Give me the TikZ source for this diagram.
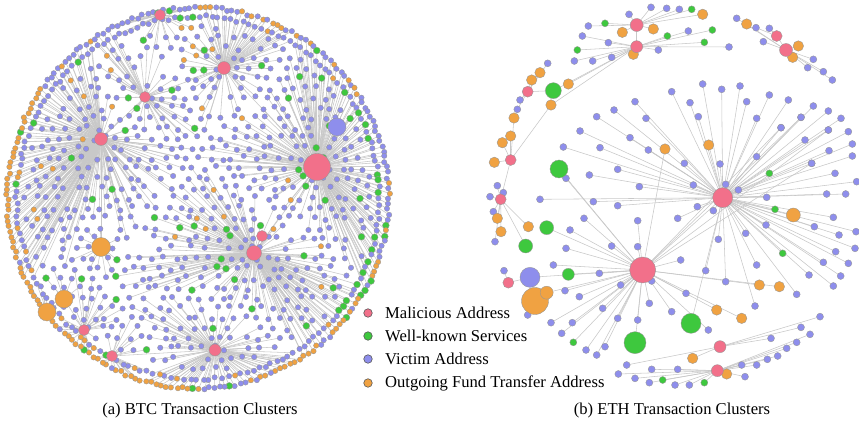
\documentclass[tikz,border=0pt]{standalone}
\usepackage{fontspec}
\setmainfont{Liberation Serif}
\definecolor{malC}{RGB}{242,112,138}
\definecolor{grnC}{RGB}{62,200,62}
\definecolor{vicC}{RGB}{142,142,236}
\definecolor{orgC}{RGB}{240,162,66}
\definecolor{edgeC}{RGB}{200,200,200}
\definecolor{bdC}{RGB}{150,150,150}
\tikzset{
  dot/.style={circle, draw=bdC, line width=0.35pt, inner sep=0pt, outer sep=0pt},
  vic/.style={dot, fill=vicC, minimum size=5.4pt},
  grn/.style={dot, fill=grnC, minimum size=6.8pt},
  org/.style={dot, fill=orgC, minimum size=5.4pt},
  mal/.style={dot, fill=malC},
  ev/.style={vic, minimum size=7pt},
  eg/.style={grn, minimum size=7pt},
  eo/.style={org, minimum size=10.5pt},
  link/.style={draw=edgeC, line width=0.55pt},
  legdot/.style={circle, draw=black!65, line width=0.6pt, inner sep=0pt, minimum size=8.5pt},
  legtxt/.style={anchor=west, inner sep=0pt, font=\fontsize{16.6}{19}\selectfont},
  captxt/.style={anchor=base, inner sep=0pt, font=\fontsize{16.6}{19}\selectfont}
}
\def\btchubs{160/15/0.9/ha,224/68/1.3/hb,145/97/1.3/hc,101/139/1.7/hd,317/167/2.3/he,337/127/0.55/hf,262/236/0.6/hg,254/253/2.0/hh,101/247/0.45/hi,64/299/0.4/hj,47/312/0.4/hk,84/330/0.8/hl,112/356/0.8/hm,215/350/1.5/hn}
\def\btchubnodes{160/15/mal/11/ha,224/68/mal/13/hb,145/97/mal/11/hc,101/139/mal/13/hd,317/167/mal/27/he,337/127/vic/18/hf,262/236/mal/11/hg,254/253/mal/15/hh,101/247/org/19/hi,64/299/org/18/hj,47/312/org/18/hk,84/330/mal/11/hl,112/356/mal/11/hm,215/350/mal/12/hn}
\newcommand{\nearhub}{%
  \gdef\bestd{9999}\gdef\besth{he}%
  \foreach \hx/\hy/\hw/\hn in \btchubs {%
    \pgfmathsetmacro\dd{veclen(\px-\hx,\py-\hy)/\hw}%
    \pgfmathtruncatemacro\cmp{\dd<\bestd}%
    \ifnum\cmp=1 \xdef\bestd{\dd}\xdef\besth{\hn}\fi
  }%
}
\newcommand{\pickstyle}{%
  \pgfmathsetmacro\u{rnd}%
  \pgfmathtruncatemacro\ty{(\u<\pg) ? 1 : ((\u<\pg+\po) ? 2 : 0)}%
  \ifcase\ty \def\sty{vic}\or\def\sty{grn}\or\def\sty{org}\fi
}
% one generated BTC point: coordinate + edge, its style remembered
\newcommand{\btcpoint}[1]{%
  \pickstyle
  \nearhub
  \coordinate (#1) at (\px,\py);
  \draw[link] (\besth) -- (#1);
  \expandafter\xdef\csname sty@#1\endcsname{\sty}%
  \expandafter\xdef\csname on@#1\endcsname{1}%
}
\def\ethspecial{728/593/mal/20/A,488/810/mal/26/B,470/75/mal/13/T1,470/140/mal/12/T2,890/108/mal/11/R1,918/150/mal/13/R2,143/275/mal/11/L1,92/480/mal/11/L2,62/598/mal/11/L3,85/848/mal/11/L4,720/1040/mal/12/P1,712/1112/mal/12/P2,237/507/grn/18/G1,220/272/grn/16/G2,200/683/grn/14/G3,137/738/grn/14/G4,265/823/grn/12/G5,633/970/grn/20/G6,465/1028/grn/22/G7,150/832/vic/20/V1,165/903/org/27/O1,200/878/org/13/O2,940/645/org/14/O3,213/315/org/10.5/E1}
\def\ethlist{513/22/ev/T1,560/25/ev/T1,598/28/ev/T1,635/28/eg/T1,668/43/eo/T1,447/43/ev/T1,427/97/eo/T1,325/78/ev/T1,375/70/eg/T1,520/87/eo/T1,
747/141/ev/T2,673/127/eg/T2,625/93/ev/T2,562/108/eg/T2,697/90/eg/T2,535/150/ev/T2,395/172/ev/T2,338/183/ev/T2,283/183/ev/T2,292/150/eg/T2,385/128/ev/T2,307/108/ev/T2,460/163/eo/T2,265/252/eo/T2,
1057/240/ev/R2,1030/215/ev/R2,1000/178/ev/R2,983/203/ev/R2,955/138/eo/R2,938/172/eo/R2,800/72/eo/R2,770/55/ev/R2,850/125/ev/R2,868/85/ev/R1,828/83/ev/R1,
203/190/ev/L1,180/218/eo/L1,155/240/eo/L1,120/300/ev/L1,112/328/ev/L1,
102/354/eo/L2,92/408/eo/L2,67/428/eo/L2,43/487/eo/L2,
52/557/ev/L3,70/578/ev/L3,30/590/ev/L3,40/635/ev/L3,52/655/eo/L3,63/695/eo/L3,45/725/ev/L3,145/680/eo/L3,
72/812/ev/L4,143/945/ev/O1,
575/275/ev/A,668/252/ev/A,725/268/ev/A,780/258/ev/A,868/285/ev/A,925/300/ev/A,630/308/ev/A,800/305/ev/A,1000/318/ev/A,1045/333/ev/A,465/305/ev/A,402/330/ev/A,350/350/ev/A,498/355/ev/A,655/350/ev/A,830/355/ev/A,963/352/ev/A,1083/355/ev/A,903/383/ev/A,1045/390/ev/A,1105/395/ev/A,300/393/ev/A,450/413/ev/A,975/420/ev/A,1047/452/ev/A,1117/432/ev/A,1117/468/ev/A,360/443/ev/A,505/450/ev/A,686/435/eo/A,250/441/ev/A,830/470/ev/A,613/490/ev/A,720/492/ev/A,995/490/ev/A,1065/520/ev/A,1130/545/ev/A,413/508/ev/A,328/525/ev/A,478/560/ev/A,640/555/ev/A,737/553/ev/A,775/570/ev/A,860/592/ev/A,1040/582/ev/A,1097/582/ev/A,180/598/ev/A,340/605/ev/A,413/617/ev/A,652/620/ev/A,700/632/ev/A,885/628/eg/A,1060/652/ev/A,593/655/ev/A,858/675/ev/A,1003/680/ev/A,1077/705/ev/A,1128/695/ev/A,715/718/ev/A,797/700/ev/A,868/520/eg/A,1125/745/ev/A,1067/755/ev/A,908/760/eg/A,830/795/ev/A,1030/787/ev/A,1105/790/ev/A,677/812/ev/A,737/845/ev/A,987/825/ev/A,1082/828/ev/A,1060/858/ev/A,950/883/ev/A,825/918/ev/A,
258/535/ev/B,312/655/ev/B,473/662/ev/B,270/690/ev/B,258/745/ev/B,395/738/ev/B,473/740/ev/B,602/780/ev/B,220/795/ev/B,358/820/ev/B,515/843/ev/B,422/855/ev/B,255/872/ev/B,298/890/ev/B,508/910/ev/B,575/935/ev/B,368/925/ev/B,473/960/ev/B,413/955/ev/B,213/968/ev/B,277/968/ev/B,245/1000/ev/B,280/1027/eg/B,318/1050/ev/B,350/1065/ev/B,375/1040/ev/B,685/990/ev/B,618/880/ev/B,555/447/eo/B,838/855/eo/B,898/860/eo/B,710/930/eo/B,785/955/eo/B,903/383/ev/B,963/352/ev/B,995/490/ev/B,1045/390/ev/B,
1020/950/ev/P1,963/982/ev/P1,873/1015/ev/P1,638/1075/eo/P1,440/1095/ev/P1,
990/1003/ev/P2,950/1027/ev/P2,920/1045/ev/P2,893/1068/ev/P2,862/1078/ev/P2,830/1095/ev/P2,785/1095/ev/P2,795/1130/ev/P2,740/1122/eo/P2,593/1108/ev/P2,515/1108/ev/P2,415/1122/ev/P2,465/1135/ev/P2,508/1148/ev/P2,548/1140/eg/P2,585/1155/ev/P2,628/1155/ev/P2,673/1148/eg/P2}
\begin{document}
\begin{tikzpicture}[x=1pt,y=-1pt]
\useasboundingbox (0,0) rectangle (859,430);
\fill[white] (0,0) rectangle (859,430);

% ---------------- BTC ----------------
\foreach \hx/\hy/\hs/\hsz/\hn in \btchubnodes
  \coordinate (\hn) at (\hx,\hy);
\foreach \a/\b in {he/hh,hc/hb,hd/hc,hh/hn,hd/hi,hg/hh,ha/hc,hf/he,hn/hm,hl/hj,hd/hh,hb/he,hk/hj}
  \draw[link] (\a) -- (\b);

\pgfmathsetseed{11}
% interior points on a jittered hexagonal grid
\foreach \j in {0,...,34} {
  \foreach \i in {0,...,31} {
    \pgfmathsetmacro\px{198+(\i-15.5)*11.5+mod(\j,2)*5.75+(rnd-0.5)*6}
    \pgfmathsetmacro\py{198+(\j-17)*10+(rnd-0.5)*5}
    \pgfmathtruncatemacro\keep{and(veclen(\px-198,\py-198)<174, rnd>0.12)}
    \ifnum\keep=1
      \pgfmathsetmacro\pg{(\px>285) ? 0.15 : (and(\py>225,\py<300) ? 0.11 : 0.025)}
      \pgfmathsetmacro\po{and(\px<250,\py<120) ? 0.12 : 0.025}
      \btcpoint{b\i x\j}
    \fi
  }
}
% outer rim ring
\foreach \k in {0,...,224} {
  \pgfmathsetmacro\ang{\k*1.6+rnd*0.6}
  \pgfmathsetmacro\rad{189+rnd*3}
  \pgfmathsetmacro\px{198+\rad*cos(\ang)}
  \pgfmathsetmacro\py{198+\rad*sin(\ang)}
  \pgfmathsetmacro\po{and(\ang>92,\ang<215) ? 0.88 : (and(\ang>18,\ang<72) ? 0.55 : (and(\ang>280,\ang<328) ? 0.45 : 0.07))}
  \pgfmathsetmacro\pg{and(\ang>8,\ang<40) ? 0.3 : 0.03}
  \btcpoint{r\k}
}
% inner rim ring
\foreach \k in {0,...,179} {
  \pgfmathsetmacro\ang{\k*2+rnd*0.8}
  \pgfmathsetmacro\rad{180+rnd*3}
  \pgfmathsetmacro\px{198+\rad*cos(\ang)}
  \pgfmathsetmacro\py{198+\rad*sin(\ang)}
  \pgfmathsetmacro\po{and(\ang>92,\ang<215) ? 0.2 : 0.05}
  \pgfmathsetmacro\pg{and(\ang>5,\ang<40) ? 0.5 : (and(\ang>320,\ang<360) ? 0.3 : 0.03)}
  \btcpoint{q\k}
}
% nodes on top of the edges
\foreach \j in {0,...,34} {
  \foreach \i in {0,...,31} {
    \expandafter\ifx\csname on@b\i x\j\endcsname\relax\else
      \edef\sty{\csname sty@b\i x\j\endcsname}%
      \node[\sty] (nb\i x\j) at (b\i x\j) {};
    \fi
  }
}
\foreach \k in {0,...,224} {\edef\sty{\csname sty@r\k\endcsname}\node[\sty] (nr\k) at (r\k) {};}
\foreach \k in {0,...,179} {\edef\sty{\csname sty@q\k\endcsname}\node[\sty] (nq\k) at (q\k) {};}
\foreach \hx/\hy/\hs/\hsz/\hn in \btchubnodes
  \node[\hs, minimum size=\hsz pt] (N\hn) at (\hn) {};

% ---------------- ETH ----------------
\foreach \x/\y/\s/\sz/\n in \ethspecial
  \coordinate (\n) at ({480+\x/3},{\y/3});
\foreach \a/\b in {T1/T2,R1/R2,A/B,L2/L3,T2/E1,L2/E1,G1/B,G3/B,G4/L3,G5/B,G6/A,G7/B,V1/B,V1/L4,O2/B,O1/V1,O3/A,G2/T2,L1/G2}
  \draw[link] (\a) -- (\b);
\foreach \x/\y/\s/\h [count=\i] in \ethlist {
  \coordinate (e\i) at ({480+\x/3},{\y/3});
  \draw[link] (\h) -- (e\i);
}
\foreach \x/\y/\s/\h [count=\i] in \ethlist
  \node[\s] (ne\i) at (e\i) {};
\foreach \x/\y/\s/\sz/\n in \ethspecial
  \node[\s, minimum size=\sz pt] (N\n) at (\n) {};

% ---------------- legend ----------------
\node[legdot, fill=malC] (lm) at (368,313) {};
\node[legdot, fill=grnC] (lg) at (368,336) {};
\node[legdot, fill=vicC] (lv) at (368,359) {};
\node[legdot, fill=orgC] (lo) at (368,383) {};
\node[legtxt] (tm) at (385,313) {Malicious Address};
\node[legtxt] (tg) at (385,336) {Well-known Services};
\node[legtxt] (tv) at (385,359) {Victim Address};
\node[legtxt] (to) at (385,383) {Outgoing Fund Transfer Address};
\node[captxt] (capa) at (200,414) {(a) BTC Transaction Clusters};
\node[captxt] (capb) at (672,414) {(b) ETH Transaction Clusters};
\end{tikzpicture}
\end{document}
